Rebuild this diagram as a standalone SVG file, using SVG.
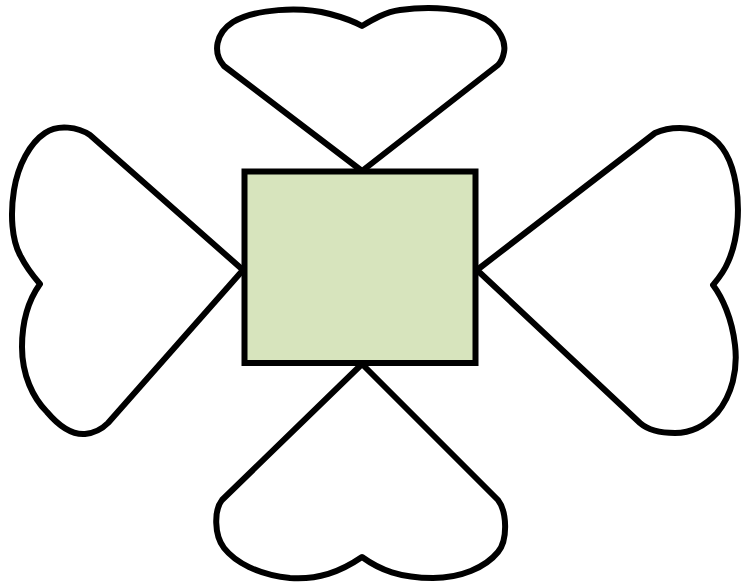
<svg xmlns="http://www.w3.org/2000/svg" width="742" height="585" viewBox="0 0 742 585">
<style>
.heart{fill:#ffffff;stroke:#000000;stroke-width:6;stroke-linejoin:round}
.box{fill:#d7e4bd;stroke:#000000;stroke-width:6}
</style>
<rect width="742" height="585" fill="#ffffff"/>
<g id="heart-top">
<path class="heart" d="M362,171 L224,66 C212,52 216,33 233,22 C255,9 300,6 330,14 C345,18 355,22 362,26 C372,20 385,12 400,10 C430,6 465,8 485,19 C500,28 506,42 504,52 C503,58 501,62 498,65 Z"/>
</g>
<g id="heart-left">
<path class="heart" d="M243,270 L90,135 C78,127 58,124 45,133 C30,143 18,165 14,190 C10,215 12,240 20,255 C26,267 33,276 40,284 C30,298 22,320 22,347 C22,375 33,398 47,412 C58,425 70,435 85,434 C95,433 102,429 108,423 Z"/>
</g>
<g id="heart-right">
<path class="heart" d="M477,270 L655,133 C668,127 690,125 708,135 C722,143 732,160 736,185 C740,210 738,240 728,262 C724,272 718,279 713,285 C722,297 732,318 735,345 C738,370 732,395 717,413 C706,425 693,433 675,433 C660,433 648,430 640,423 Z"/>
</g>
<g id="heart-bottom">
<path class="heart" d="M362,364 L222,500 C214,510 214,535 224,548 C235,562 258,575 290,578 C318,580 340,572 362,557 C380,570 400,578 433,578 C460,578 485,568 498,552 C508,540 507,512 498,500 Z"/>
</g>
<g id="center">
<rect class="box" x="244.5" y="171.5" width="231" height="191.5"/>
</g>
</svg>
